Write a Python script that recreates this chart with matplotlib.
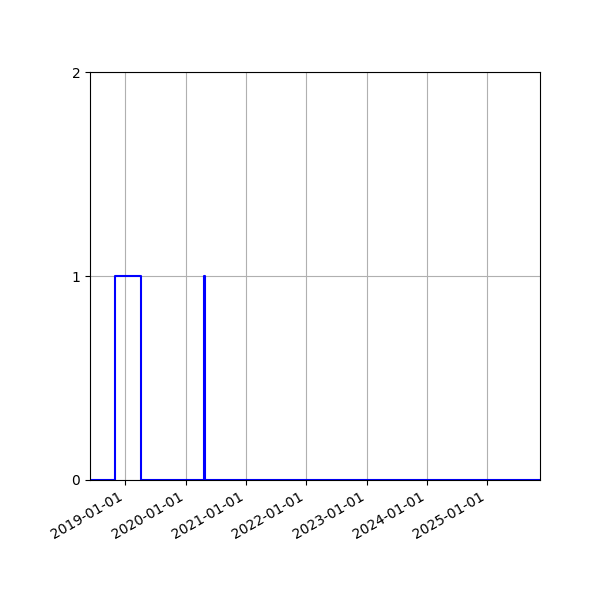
import pandas as pd
import matplotlib
matplotlib.use('Agg')
import matplotlib.pyplot as plt
import matplotlib.dates as mdates

dates = pd.to_datetime(['2018-06-01', '2018-10-31', '2019-04-06',
                        '2020-04-24', '2020-04-27', '2025-11-17'])
values = [0, 1, 0, 1, 0, 0]

fig, ax = plt.subplots(figsize=(6, 6), dpi=100)
ax.step(dates, values, where='post', color='b')
ax.set_xlim(dates[0], dates[-1])
ax.set_ylim(0, 2)
ax.set_yticks([0, 1, 2])
ax.xaxis.set_major_locator(mdates.YearLocator())
ax.xaxis.set_major_formatter(mdates.DateFormatter('%Y-%m-%d'))
ax.grid(True)
fig.autofmt_xdate()
fig.subplots_adjust(left=0.15)
fig.savefig('out.png')
